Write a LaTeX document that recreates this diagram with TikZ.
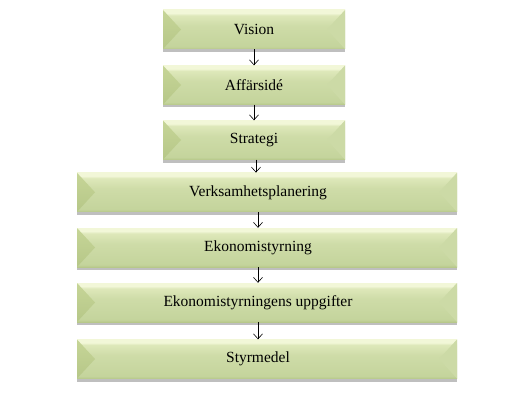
\documentclass[tikz,border=0pt]{standalone}
\usepackage{fontspec}
\setmainfont{Liberation Serif}
\usetikzlibrary{arrows.meta,shadows,calc}

\definecolor{faceLight}{HTML}{F2F7D8}
\definecolor{faceTop}{HTML}{DEE8BA}
\definecolor{faceBot}{HTML}{C4D49C}
\definecolor{faceEdge}{HTML}{B7C88A}
\definecolor{bevLeftTop}{HTML}{C6D597}
\definecolor{bevLeftBot}{HTML}{B6C788}
\definecolor{bevRight}{HTML}{CCDAA6}

\pgfdeclareverticalshading{bevface}{100bp}{color(0bp)=(faceEdge); color(25bp)=(faceEdge);
  color(28bp)=(faceBot); color(55bp)=(faceBot!60!faceTop); color(68bp)=(faceTop);
  color(71bp)=(faceLight); color(75bp)=(faceLight); color(100bp)=(faceLight)}

\tikzset{
  bevel/.style={minimum height=39pt, inner sep=0pt, font=\fontsize{15.5}{18}\selectfont,
    drop shadow={shadow xshift=0pt, shadow yshift=-3pt, opacity=0.5, fill=black!50},
    path picture={
      \path (path picture bounding box.north west) coordinate (pnw)
            (path picture bounding box.south east) coordinate (pse)
            (path picture bounding box.west) coordinate (pw)
            (path picture bounding box.east) coordinate (pe);
      \shade[shading=bevface] (pnw) rectangle (pse);
      \shade[top color=bevLeftTop, bottom color=bevLeftBot]
        (pnw) -- ($(pw)+(18pt,0)$) -- (pse -| pnw) -- cycle;
      \fill[bevRight] (pnw -| pse) -- ($(pe)+(-18pt,0)$) -- (pse) -- cycle;
    }},
  topbox/.style={bevel, minimum width=182pt},
  lowbox/.style={bevel, minimum width=380pt, execute at begin node=\hspace*{-18pt}},
  link/.style={-{Straight Barb[length=5pt,width=9pt]}, line width=0.6pt},
}

\begin{document}
\begin{tikzpicture}[x=1pt,y=1pt]
  \def\topx{254}
  \def\lowx{267}
  \fill[white] (0,0) rectangle (532,-401);
  \useasboundingbox (0,0) rectangle (532,-401);

  \node[topbox] (vision)   at (\topx,-29.5) {Vision};
  \node[topbox] (affar)    at (\topx,-85)   {Affärsidé};
  \node[topbox] (strategi) at (\topx,-140)  {Strategi};

  \node[lowbox] (verk)     at (\lowx,-192.3) {Verksamhetsplanering};
  \node[lowbox] (ekon)     at (\lowx,-247.5) {Ekonomistyrning};
  \node[lowbox] (uppg)     at (\lowx,-302.5) {Ekonomistyrningens uppgifter};
  \node[lowbox] (styr)     at (\lowx,-359)   {Styrmedel};

  \draw[link] (vision) -- (affar);
  \draw[link] (affar) -- (strategi);
  \draw[link] ([xshift=2pt]strategi.south) -- ([xshift=2pt]strategi.south |- verk.north);
  \draw[link] ([xshift=-9pt]verk.south) -- ([xshift=-9pt]ekon.north);
  \draw[link] ([xshift=-9pt]ekon.south) -- ([xshift=-9pt]uppg.north);
  \draw[link] ([xshift=-9pt]uppg.south) -- ([xshift=-9pt]styr.north);
\end{tikzpicture}
\end{document}
